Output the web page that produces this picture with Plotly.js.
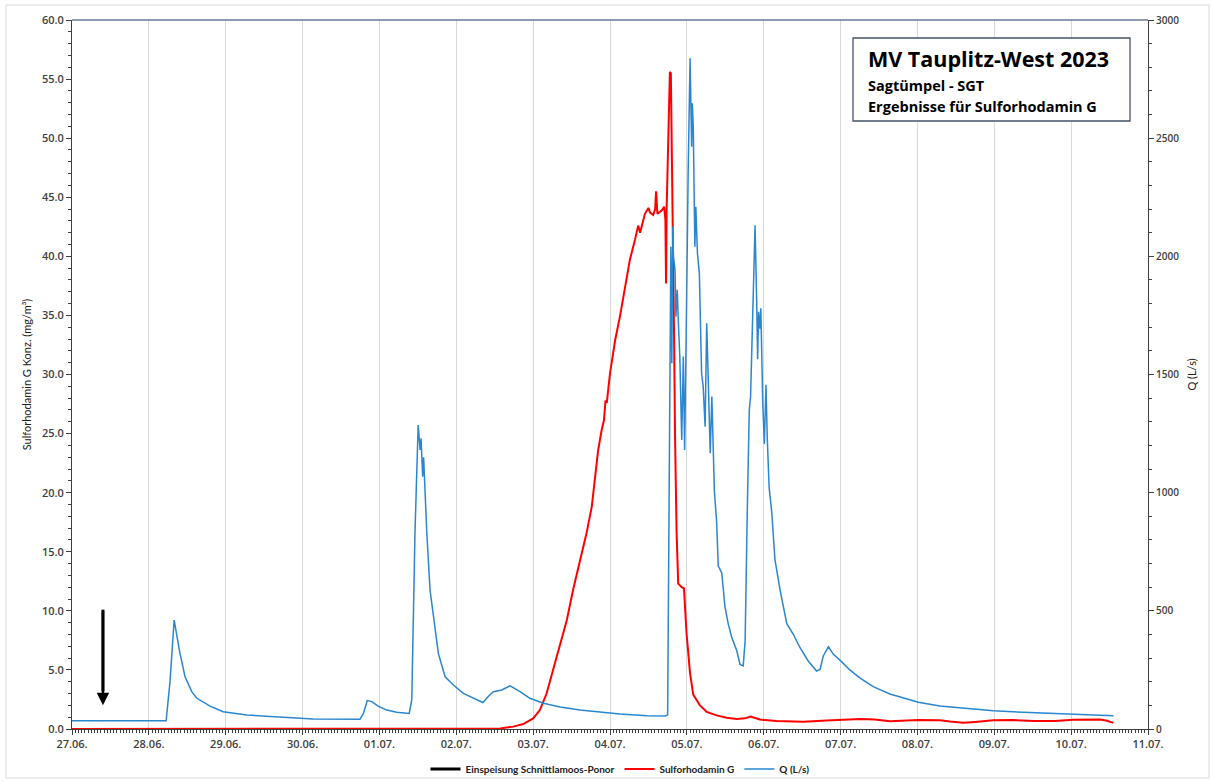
<!DOCTYPE html>
<html>
<head>
<meta charset="utf-8">
<script src="https://cdn.plot.ly/plotly-3.0.1.min.js"></script>
<style>
html,body{margin:0;padding:0;background:#fff;}
#chart{width:1212px;height:783px;}
</style>
</head>
<body>
<div id="chart"></div>
<script>
// ---- data ----
var qTime = [
"2023-06-27 00:00","2023-06-28 05:24","2023-06-28 06:36","2023-06-28 07:54","2023-06-28 09:42","2023-06-28 11:18",
"2023-06-28 13:24","2023-06-28 14:54","2023-06-28 19:06","2023-06-28 23:12","2023-06-29 06:36","2023-06-29 17:00",
"2023-06-30 03:18","2023-06-30 17:54","2023-06-30 19:00","2023-06-30 20:12","2023-06-30 21:36","2023-06-30 23:36",
"2023-07-01 02:18","2023-07-01 05:24","2023-07-01 09:18","2023-07-01 10:06","2023-07-01 11:06","2023-07-01 12:06",
"2023-07-01 12:42","2023-07-01 13:00","2023-07-01 13:18","2023-07-01 13:30","2023-07-01 13:48","2023-07-01 14:48",
"2023-07-01 15:48","2023-07-01 16:48","2023-07-01 18:24","2023-07-01 20:30","2023-07-01 23:06","2023-07-02 02:12",
"2023-07-02 05:18","2023-07-02 08:18","2023-07-02 10:30","2023-07-02 11:36","2023-07-02 14:12","2023-07-02 16:48",
"2023-07-02 19:54","2023-07-02 23:00","2023-07-03 03:12","2023-07-03 08:24","2023-07-03 14:36","2023-07-03 20:54",
"2023-07-04 03:06","2023-07-04 11:30","2023-07-04 17:12","2023-07-04 18:00","2023-07-04 18:30","2023-07-04 19:00",
"2023-07-04 19:18","2023-07-04 19:36","2023-07-04 19:48","2023-07-04 20:18","2023-07-04 20:36","2023-07-04 21:00",
"2023-07-04 21:24","2023-07-04 21:48","2023-07-04 22:24","2023-07-04 22:54","2023-07-04 23:18","2023-07-04 23:42",
"2023-07-04 23:54","2023-07-05 00:24","2023-07-05 01:00","2023-07-05 01:30","2023-07-05 01:42","2023-07-05 02:00",
"2023-07-05 02:30","2023-07-05 02:48","2023-07-05 03:18","2023-07-05 03:54","2023-07-05 04:06","2023-07-05 04:36",
"2023-07-05 05:06","2023-07-05 05:42","2023-07-05 06:12","2023-07-05 06:42","2023-07-05 07:18","2023-07-05 07:48",
"2023-07-05 08:18","2023-07-05 08:36","2023-07-05 09:18","2023-07-05 09:48","2023-07-05 10:54","2023-07-05 11:54",
"2023-07-05 12:54","2023-07-05 14:00","2023-07-05 15:36","2023-07-05 16:36","2023-07-05 17:36","2023-07-05 18:12",
"2023-07-05 18:54","2023-07-05 19:30","2023-07-05 19:54","2023-07-05 20:36","2023-07-05 21:18","2023-07-05 21:48",
"2023-07-05 22:06","2023-07-05 22:24","2023-07-05 22:48","2023-07-05 23:06","2023-07-05 23:42","2023-07-06 00:12",
"2023-07-06 00:42","2023-07-06 01:06","2023-07-06 01:42","2023-07-06 02:30","2023-07-06 03:30","2023-07-06 05:06",
"2023-07-06 07:12","2023-07-06 09:12","2023-07-06 11:18","2023-07-06 13:54","2023-07-06 16:30","2023-07-06 17:36",
"2023-07-06 18:36","2023-07-06 20:12","2023-07-06 21:42","2023-07-07 00:18","2023-07-07 02:54","2023-07-07 06:06",
"2023-07-07 10:12","2023-07-07 15:24","2023-07-07 20:36","2023-07-08 00:18","2023-07-08 07:00","2023-07-08 15:24",
"2023-07-08 23:42","2023-07-09 09:00","2023-07-09 19:30","2023-07-10 05:54","2023-07-10 13:12"
];
var qValues = [
35,35,200,461,321,221,
158,131,97,73,59,49,
42,41,66,120,116,97,
80,71,66,123,829,1286,
1181,1230,1138,1068,1150,829,
588,475,320,221,186,151,
130,112,145,158,165,183,
158,130,109,93,80,71,
63,56,55,60,1200,2041,
1548,2126,1999,1943,1745,1858,
1703,1576,1223,1576,1181,1491,
1787,2351,2838,2464,2648,2549,
2041,2210,2013,1928,1787,1505,
1449,1279,1717,1449,1167,1407,
1130,1005,876,690,660,517,
446,388,331,273,267,374,
948,1350,1407,1765,2131,1808,
1565,1765,1694,1780,1378,1206,
1457,1234,1020,919,718,589,
446,402,345,288,245,252,
309,348,317,285,250,215,
179,148,126,113,97,86,
77,71,65,61,56
];

var sgTime = [
"2023-06-27 00:00","2023-07-02 04:18","2023-07-02 13:42","2023-07-02 17:48","2023-07-02 20:54","2023-07-03 00:00",
"2023-07-03 02:06","2023-07-03 04:12","2023-07-03 06:18","2023-07-03 08:24","2023-07-03 10:30","2023-07-03 12:30",
"2023-07-03 14:36","2023-07-03 16:42","2023-07-03 18:18","2023-07-03 19:18","2023-07-03 20:18","2023-07-03 21:24",
"2023-07-03 22:06","2023-07-03 22:36","2023-07-03 23:00","2023-07-04 00:00","2023-07-04 01:36","2023-07-04 03:06",
"2023-07-04 04:42","2023-07-04 06:12","2023-07-04 07:48","2023-07-04 08:48","2023-07-04 09:24","2023-07-04 09:54",
"2023-07-04 10:54","2023-07-04 12:00","2023-07-04 12:30","2023-07-04 13:30","2023-07-04 14:06","2023-07-04 14:24",
"2023-07-04 14:48","2023-07-04 16:12","2023-07-04 16:54","2023-07-04 17:18","2023-07-04 17:30","2023-07-04 17:42",
"2023-07-04 18:12","2023-07-04 18:42","2023-07-04 19:00","2023-07-04 19:36","2023-07-04 20:00","2023-07-04 20:18",
"2023-07-04 20:48","2023-07-04 21:18","2023-07-04 22:24","2023-07-04 23:06","2023-07-04 23:54","2023-07-05 01:00",
"2023-07-05 02:00","2023-07-05 04:06","2023-07-05 06:12","2023-07-05 09:18","2023-07-05 12:24","2023-07-05 15:36",
"2023-07-05 18:12","2023-07-05 19:54","2023-07-05 22:48","2023-07-06 04:00","2023-07-06 12:24","2023-07-06 19:42",
"2023-07-06 23:48","2023-07-07 06:06","2023-07-07 10:42","2023-07-07 15:24","2023-07-08 00:18","2023-07-08 07:00",
"2023-07-08 10:12","2023-07-08 14:18","2023-07-08 18:00","2023-07-08 23:42","2023-07-09 05:54","2023-07-09 12:12",
"2023-07-09 18:54","2023-07-10 00:42","2023-07-10 09:00","2023-07-10 10:54","2023-07-10 13:12"
];
var sgValues = [
0,0.02,0.05,0.2,0.42,0.9,
1.6,3.0,5.0,7.0,9.2,11.8,
14.3,16.6,18.8,21.3,23.6,25.3,
26.1,27.8,27.6,30.1,32.9,34.9,
37.4,39.7,41.4,42.6,42.0,42.5,
43.6,44.1,43.7,43.5,44.0,45.5,
43.6,43.9,44.2,43.1,37.7,44.2,
49.8,55.6,55.5,44.8,33.5,25.0,
16.6,12.3,12.0,11.9,8.1,4.7,
2.9,2.0,1.45,1.15,0.95,0.85,
0.9,1.05,0.8,0.68,0.62,0.72,
0.76,0.85,0.8,0.66,0.76,0.74,
0.63,0.53,0.6,0.73,0.76,0.67,
0.67,0.79,0.8,0.72,0.52
];

var injTime = ["2023-06-27 09:40","2023-06-27 09:40"];
var injValues = [10.1, 3.2];
var injTip = 2.0;

var dayTicks = ["27.06.","28.06.","29.06.","30.06.","01.07.","02.07.","03.07.","04.07.","05.07.","06.07.","07.07.","08.07.","09.07.","10.07.","11.07."];
var seriesNames = ["Einspeisung Schnittlamoos-Ponor","Sulforhodamin G","Q (L/s)"];
var titleLines = ["MV Tauplitz-West 2023","Sagtümpel - SGT","Ergebnisse für Sulforhodamin G"];

// ---- chart ----
var FONT = "Lato, 'Open Sans', sans-serif";
var BOXFONT = "'Open Sans', Lato, sans-serif";
var tickFont = {family: BOXFONT, size: 11, color: "#404040", weight: 600};

var traces = [
  {x: injTime, y: injValues, name: seriesNames[0], type: "scatter", mode: "lines",
   line: {color: "#000000", width: 3}, yaxis: "y", hoverinfo: "skip"},
  {x: sgTime, y: sgValues, name: seriesNames[1], type: "scatter", mode: "lines",
   line: {color: "#ff0000", width: 2}, yaxis: "y"},
  {x: qTime, y: qValues, name: seriesNames[2], type: "scatter", mode: "lines",
   line: {color: "#2a86cf", width: 1.5}, yaxis: "y2"}
];

var tickvals = dayTicks.map(function(d){
  var dd = d.split(".");
  return "2023-" + dd[1] + "-" + dd[0];
});

// plot area in pixels: x 72..1148, y 20..729
var PW = 1076, PH = 709;
function px(x){ return (x - 72) / PW; }
function py(y){ return (729 - y) / PH; }

var layout = {
  width: 1212, height: 783,
  margin: {l: 72, r: 64, t: 20, b: 54, autoexpand: false},
  paper_bgcolor: "#ffffff", plot_bgcolor: "#ffffff",
  font: {family: FONT, color: "#404040"},
  showlegend: true,
  legend: {orientation: "h", x: px(620), xanchor: "center", y: py(769), yanchor: "middle",
           font: {family: FONT, size: 10, color: "#202020", weight: "bold"},
           tracegroupgap: 0, bgcolor: "rgba(0,0,0,0)"},
  xaxis: {
    type: "date", range: ["2023-06-27", "2023-07-11"],
    tickmode: "array", tickvals: tickvals, ticktext: dayTicks,
    showgrid: true, gridcolor: "#d9d9d9", gridwidth: 1,
    showline: true, linecolor: "#404040", linewidth: 1,
    ticks: "outside", ticklen: 5, tickcolor: "#404040",
    minor: {dtick: 3600000, tick0: "2023-06-27", ticks: "outside", ticklen: 3, tickcolor: "#404040", showgrid: false},
    tickfont: tickFont, zeroline: false, fixedrange: true
  },
  yaxis: {
    range: [0, 60], dtick: 5, tick0: 0, tickformat: ".1f",
    showgrid: false, zeroline: false,
    showline: true, linecolor: "#404040", linewidth: 1,
    ticks: "outside", ticklen: 5, tickcolor: "#404040",
    minor: {dtick: 1, ticks: "outside", ticklen: 3, tickcolor: "#404040", showgrid: false},
    tickfont: tickFont,
    title: {text: "Sulforhodamin G Konz. (mg/m³)", font: {family: FONT, size: 11, color: "#202020"}, standoff: 8}
  },
  yaxis2: {
    range: [0, 3000], dtick: 500, tick0: 0, overlaying: "y", side: "right",
    showgrid: false, zeroline: false,
    showline: true, linecolor: "#404040", linewidth: 1,
    ticks: "outside", ticklen: 5, tickcolor: "#404040",
    minor: {dtick: 100, ticks: "outside", ticklen: 3, tickcolor: "#404040", showgrid: false},
    tickfont: {family: BOXFONT, size: 10, color: "#404040", weight: 600},
    title: {text: "Q (L/s)", font: {family: FONT, size: 11, color: "#202020"}, standoff: 10}
  },
  shapes: [
    {type: "line", xref: "paper", yref: "paper", x0: 0, x1: 1, y0: 1, y1: 1,
     line: {color: "#6b7a99", width: 1.5}},
    {type: "rect", xref: "paper", yref: "paper", x0: px(853), x1: px(1130), y0: py(121), y1: py(38),
     line: {color: "#44546a", width: 1.3}, fillcolor: "#ffffff", layer: "above"},
    {type: "rect", xref: "paper", yref: "paper", x0: px(6), x1: px(1209), y0: py(778), y1: py(5),
     line: {color: "#d9d9d9", width: 1}, fillcolor: "rgba(0,0,0,0)", layer: "below"}
  ],
  annotations: [
    {x: injTime[0], y: injTip, ax: injTime[0], ay: injValues[0], xref: "x", yref: "y", axref: "x", ayref: "y",
     showarrow: true, arrowhead: 2, arrowsize: 1, arrowwidth: 2.5, arrowcolor: "#000000", text: ""},
    {xref: "paper", yref: "paper", x: px(866), y: py(58), xanchor: "left", yanchor: "middle", showarrow: false,
     text: "<b>" + titleLines[0] + "</b>", font: {family: BOXFONT, size: 21.5, color: "#000000"}},
    {xref: "paper", yref: "paper", x: px(866), y: py(86), xanchor: "left", yanchor: "middle", showarrow: false,
     text: "<b>" + titleLines[1] + "</b>", font: {family: BOXFONT, size: 14.5, color: "#000000"}},
    {xref: "paper", yref: "paper", x: px(866), y: py(106), xanchor: "left", yanchor: "middle", showarrow: false,
     text: "<b>" + titleLines[2] + "</b>", font: {family: BOXFONT, size: 14.5, color: "#000000"}}
  ]
};

Plotly.newPlot("chart", traces, layout, {displayModeBar: false, staticPlot: true});
</script>
</body>
</html>
